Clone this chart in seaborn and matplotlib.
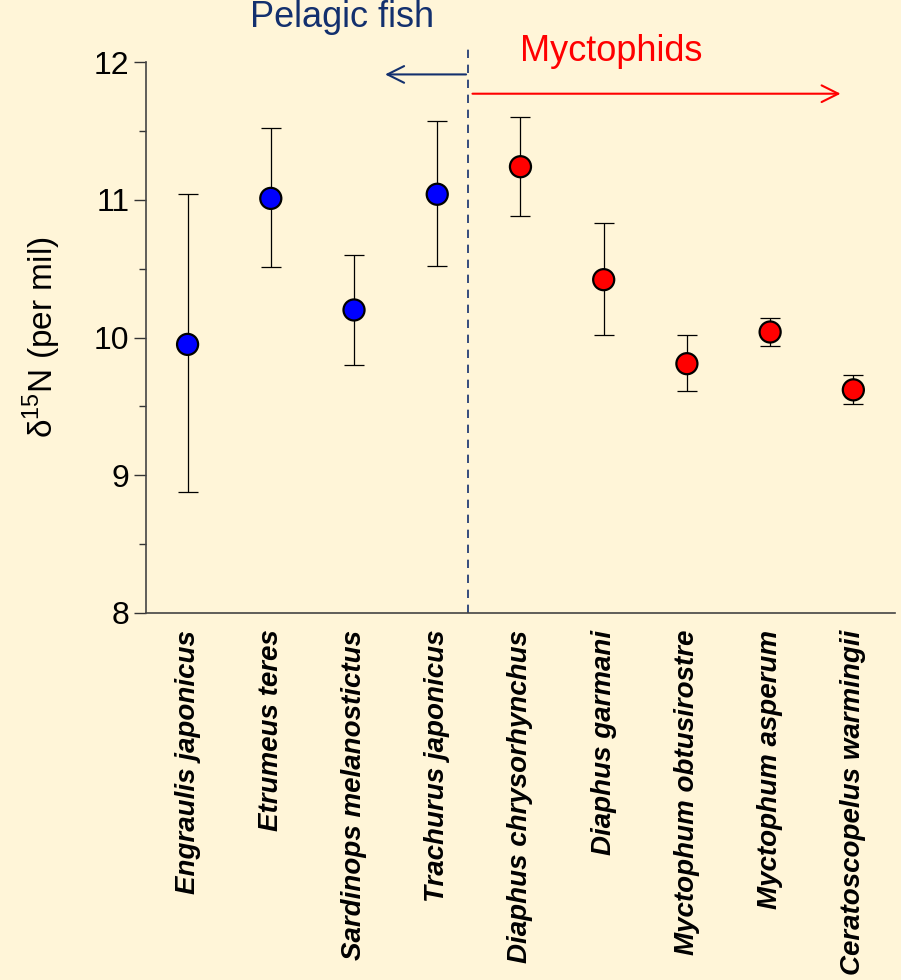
import matplotlib
matplotlib.use("Agg")
import matplotlib.pyplot as plt
import seaborn as sns
import pandas as pd
from matplotlib.ticker import MultipleLocator

species = ["Engraulis japonicus", "Etrumeus teres", "Sardinops melanostictus",
           "Trachurus japonicus", "Diaphus chrysorhynchus", "Diaphus garmani",
           "Myctophum obtusirostre", "Myctophum asperum", "Ceratoscopelus warmingii"]
group = ["Pelagic fish"] * 4 + ["Myctophids"] * 5
mean_n15 = [9.95, 11.01, 10.20, 11.04, 11.24, 10.42, 9.81, 10.04, 9.62]
low_n15 = [8.88, 10.51, 9.80, 10.52, 10.88, 10.02, 9.61, 9.94, 9.52]
high_n15 = [11.04, 11.52, 10.60, 11.57, 11.60, 10.83, 10.02, 10.14, 9.73]

bg = "#FFF5D8"
navy = "#13306E"

sns.set_theme(style="ticks")
plt.rcParams["font.family"] = ["Liberation Sans", "DejaVu Sans"]
plt.rcParams["text.color"] = "black"
plt.rcParams["axes.labelcolor"] = "black"
plt.rcParams["xtick.color"] = "black"
plt.rcParams["ytick.color"] = "black"
plt.rcParams["mathtext.fontset"] = "custom"
plt.rcParams["mathtext.rm"] = "Liberation Sans"

df = pd.DataFrame({"species": species, "group": group, "mean": mean_n15,
                   "low": low_n15, "high": high_n15})
df["pos"] = range(len(df))

fig = plt.figure(figsize=(9.01, 9.80), dpi=100, facecolor=bg)
ax = fig.add_axes([0.162, 0.3745, 0.8313, 0.5622])
ax.set_facecolor(bg)

ax.errorbar(df["pos"], df["mean"],
            yerr=[df["mean"] - df["low"], df["high"] - df["mean"]],
            fmt="none", ecolor="black", elinewidth=0.9, capsize=7, capthick=0.9, zorder=2)
sns.scatterplot(data=df, x="pos", y="mean", hue="group",
                palette={"Pelagic fish": "#0000FF", "Myctophids": "#FF0000"},
                s=230, edgecolor="black", linewidth=1.6, legend=False, zorder=3, ax=ax)

ax.set_xlim(-0.5, 8.5)
ax.set_ylim(8, 12)
ax.yaxis.set_major_locator(MultipleLocator(1))
ax.yaxis.set_minor_locator(MultipleLocator(0.5))
ax.set_xticks(df["pos"])
ax.set_xticklabels(species, rotation=90, fontsize=20, fontweight="bold", style="italic")
ax.tick_params(axis="x", length=0, pad=12)
ax.tick_params(axis="y", which="major", length=9, width=1, labelsize=23, color="#333333", pad=3)
ax.tick_params(axis="y", which="minor", length=5, width=1, color="#333333")
ax.set_xlabel("")
ax.set_ylabel("δ$^{\\mathrm{15}}$N (per mil)", fontsize=24, labelpad=22)
for s in ["top", "right"]:
    ax.spines[s].set_visible(False)
for s in ["left", "bottom"]:
    ax.spines[s].set_color("#444444")
    ax.spines[s].set_linewidth(1.2)

# divider and group annotations
ax.plot([3.37, 3.37], [8, 12.13], ls=(0, (5, 4)), color=navy, lw=1.2, clip_on=False, zorder=1)
ax.annotate("", xy=(2.34, 11.91), xytext=(3.38, 11.91),
            arrowprops=dict(arrowstyle="->", color=navy, lw=1.5, mutation_scale=30), annotation_clip=False)
ax.annotate("", xy=(7.88, 11.77), xytext=(3.39, 11.77),
            arrowprops=dict(arrowstyle="->", color="#FF0000", lw=1.5, mutation_scale=30), annotation_clip=False)
ax.text(1.86, 12.32, "Pelagic fish", color=navy, fontsize=26, ha="center", va="center", clip_on=False)
ax.text(5.09, 12.08, "Myctophids", color="#FF0000", fontsize=26, ha="center", va="center", clip_on=False)

fig.savefig("out.png", dpi=100, facecolor=bg)
